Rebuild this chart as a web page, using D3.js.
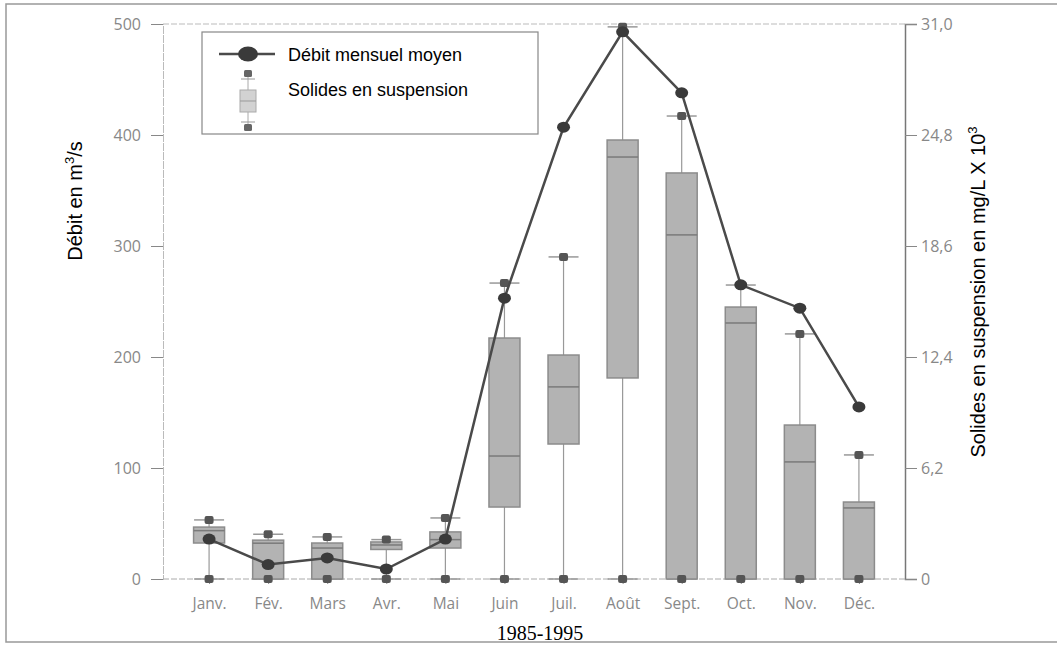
<!DOCTYPE html>
<html>
<head>
<meta charset="utf-8">
<script src="https://cdn.jsdelivr.net/npm/d3@7"></script>
<style>
  body { margin: 0; background: #fff; }
  svg { display: block; }
</style>
</head>
<body>
<div id="chart"></div>
<script>
// mois
const months = ["Janv.", "Fév.", "Mars", "Avr.", "Mai", "Juin", "Juil.", "Août", "Sept.", "Oct.", "Nov.", "Déc."];
// débit mensuel moyen (m3/s)
const debit = [36, 13, 19, 9, 36, 253, 407, 493, 438, 265, 244, 155];
// solides en suspension (mg/L x 10^3)
const ssMin = [0, 0, 0, 0, 0, 0, 0, 0, 0, 0, 0, 0];
const ssQ1 = [2.01, 0, 0, 1.65, 1.73, 4.02, 7.54, 11.23, 0, 0, 0, 0];
const ssMed = [2.7, 2.0, 1.73, 1.9, 2.2, 6.87, 10.73, 23.57, 19.22, 14.3, 6.54, 3.97];
const ssQ3 = [2.9, 2.17, 2.01, 2.07, 2.63, 13.46, 12.51, 24.52, 22.68, 15.19, 8.6, 4.3];
const ssMax = [3.3, 2.5, 2.35, 2.2, 3.41, 16.53, 17.99, 30.84, 25.86, 16.42, 13.69, 6.93];
const leftTicks = [0, 100, 200, 300, 400, 500];
const rightTicks = [0, 6.2, 12.4, 18.6, 24.8, 31.0];

const W = 1057, H = 645;
const x0 = 163, x1 = 905, yTop = 24, yBot = 579;

const svg = d3.select("#chart").append("svg")
    .attr("width", W)
    .attr("height", H);

// cadre extérieur
svg.append("rect")
    .attr("x", 6).attr("y", 4)
    .attr("width", W).attr("height", 638)
    .attr("fill", "none")
    .attr("stroke", "#999")
    .attr("stroke-width", 1.5);

const x = d3.scalePoint().domain(months).range([x0, x1]).padding(0.78);
const yL = d3.scaleLinear().domain([0, 500]).range([yBot, yTop]);
const yR = d3.scaleLinear().domain([0, 31]).range([yBot, yTop]);

const tickFont = "'Open Sans', 'DejaVu Sans', sans-serif";
const labelFont = "'Liberation Sans', Arial, sans-serif";

// ligne du haut pointillée
svg.append("line")
    .attr("x1", x0).attr("x2", x1)
    .attr("y1", yTop).attr("y2", yTop)
    .attr("stroke", "#bbb")
    .attr("stroke-dasharray", "6,2");

// axe gauche
const gLeft = svg.append("g")
    .attr("transform", `translate(${x0},0)`)
    .call(d3.axisLeft(yL).tickValues(leftTicks).tickSize(12).tickPadding(10));
gLeft.select(".domain").attr("stroke", "#bbb").attr("stroke-dasharray", "8,1");
gLeft.selectAll(".tick line").attr("stroke", "#888");
gLeft.selectAll("text").attr("fill", "#888").style("font", `16px ${tickFont}`);

// axe droit
const fmtR = d => d === 0 ? "0" : d3.format(".1f")(d).replace(".", ",");
const gRight = svg.append("g")
    .attr("transform", `translate(${x1},0)`)
    .call(d3.axisRight(yR).tickValues(rightTicks).tickFormat(fmtR).tickSize(12).tickPadding(4));
gRight.select(".domain").attr("stroke", "#777").attr("stroke-width", 1.5);
gRight.selectAll(".tick line").attr("stroke", "#888");
gRight.selectAll("text").attr("fill", "#888").style("font", `16px ${tickFont}`);

// axe des x
const gX = svg.append("g")
    .attr("transform", `translate(0,${yBot})`)
    .call(d3.axisBottom(x).tickSize(5).tickPadding(14));
gX.select(".domain").attr("d", `M${x0},0H${x1}`).attr("stroke", "#aaa").attr("stroke-dasharray", "6,2");
gX.selectAll(".tick line").attr("stroke", "#888").attr("y1", -3);
gX.selectAll("text").attr("fill", "#888").style("font", `15.5px ${tickFont}`);

// titres des axes
svg.append("text")
    .attr("transform", "translate(82,201) rotate(-90)")
    .attr("text-anchor", "middle")
    .style("font", `20px ${labelFont}`)
    .html("Débit en m<tspan dy='-8' font-size='13'>3</tspan><tspan dy='8'>/s</tspan>");

svg.append("text")
    .attr("transform", "translate(985,292) rotate(-90)")
    .attr("text-anchor", "middle")
    .style("font", `20px ${labelFont}`)
    .html("Solides en suspension en mg/L X 10<tspan dy='-8' font-size='13'>3</tspan>");

svg.append("text")
    .attr("x", 540).attr("y", 640)
    .attr("text-anchor", "middle")
    .style("font", "20px 'Liberation Serif', 'Times New Roman', serif")
    .text("1985-1995");

// boîtes
const stats = months.map((m, i) => ({
    m, min: ssMin[i], q1: ssQ1[i], med: ssMed[i], q3: ssQ3[i], max: ssMax[i]
}));
const bw = 31, cw = 30;
const boxes = svg.append("g").selectAll("g").data(stats).join("g")
    .attr("transform", d => `translate(${x(d.m)},0)`);

boxes.append("line")
    .attr("y1", d => yR(d.min)).attr("y2", d => yR(d.max))
    .attr("stroke", "#999").attr("stroke-width", 1.2);
boxes.append("line")
    .attr("x1", -cw / 2).attr("x2", cw / 2)
    .attr("y1", d => yR(d.max)).attr("y2", d => yR(d.max))
    .attr("stroke", "#999").attr("stroke-width", 1.5);
boxes.append("line")
    .attr("x1", -cw / 2).attr("x2", cw / 2)
    .attr("y1", d => yR(d.min)).attr("y2", d => yR(d.min))
    .attr("stroke", "#999").attr("stroke-width", 1.5);
boxes.append("rect")
    .attr("x", -bw / 2).attr("width", bw)
    .attr("y", d => yR(d.q3))
    .attr("height", d => Math.max(2, yR(d.q1) - yR(d.q3)))
    .attr("fill", "#b3b3b3")
    .attr("stroke", "#8c8c8c").attr("stroke-width", 1.5);
boxes.append("line")
    .attr("x1", -bw / 2).attr("x2", bw / 2)
    .attr("y1", d => yR(d.med)).attr("y2", d => yR(d.med))
    .attr("stroke", "#7a7a7a").attr("stroke-width", 1.5);
boxes.append("rect")
    .attr("x", -4.5).attr("width", 9).attr("height", 8).attr("rx", 2)
    .attr("y", d => yR(d.max) - 4)
    .attr("fill", "#555");
boxes.append("rect")
    .attr("x", -4.5).attr("width", 9).attr("height", 8).attr("rx", 2)
    .attr("y", d => yR(d.min) - 4)
    .attr("fill", "#555");

// débit mensuel moyen
const line = d3.line().x((d, i) => x(months[i])).y(d => yL(d));
svg.append("path")
    .datum(debit)
    .attr("d", line)
    .attr("fill", "none")
    .attr("stroke", "#4a4a4a")
    .attr("stroke-width", 2.5);
svg.append("g").selectAll("ellipse").data(debit).join("ellipse")
    .attr("cx", (d, i) => x(months[i]))
    .attr("cy", d => yL(d))
    .attr("rx", 6.5).attr("ry", 5.5)
    .attr("fill", "#3a3a3a");

// légende
const lg = svg.append("g");
lg.append("rect")
    .attr("x", 202).attr("y", 32).attr("width", 336).attr("height", 102)
    .attr("fill", "#fff").attr("stroke", "#888").attr("stroke-width", 1.2);
lg.append("line")
    .attr("x1", 219).attr("x2", 275).attr("y1", 54).attr("y2", 54)
    .attr("stroke", "#4a4a4a").attr("stroke-width", 2.5);
lg.append("ellipse")
    .attr("cx", 248).attr("cy", 54).attr("rx", 10).attr("ry", 7.5)
    .attr("fill", "#3a3a3a");
lg.append("line")
    .attr("x1", 248).attr("x2", 248).attr("y1", 73).attr("y2", 127)
    .attr("stroke", "#aaa");
lg.append("line")
    .attr("x1", 241).attr("x2", 255).attr("y1", 79).attr("y2", 79)
    .attr("stroke", "#999");
lg.append("line")
    .attr("x1", 241).attr("x2", 255).attr("y1", 122).attr("y2", 122)
    .attr("stroke", "#999");
lg.append("rect")
    .attr("x", 240).attr("y", 90).attr("width", 16).attr("height", 22)
    .attr("fill", "#d2d2d2").attr("stroke", "#aaa");
lg.append("line")
    .attr("x1", 240).attr("x2", 256).attr("y1", 101).attr("y2", 101)
    .attr("stroke", "#999");
lg.append("rect")
    .attr("x", 244).attr("y", 70).attr("width", 8).attr("height", 7).attr("rx", 1.5)
    .attr("fill", "#666");
lg.append("rect")
    .attr("x", 244).attr("y", 124).attr("width", 8).attr("height", 7).attr("rx", 1.5)
    .attr("fill", "#666");
lg.append("text")
    .attr("x", 288).attr("y", 61)
    .style("font", `18px ${labelFont}`)
    .text("Débit mensuel moyen");
lg.append("text")
    .attr("x", 288).attr("y", 96)
    .style("font", `18px ${labelFont}`)
    .text("Solides en suspension");
</script>
</body>
</html>
